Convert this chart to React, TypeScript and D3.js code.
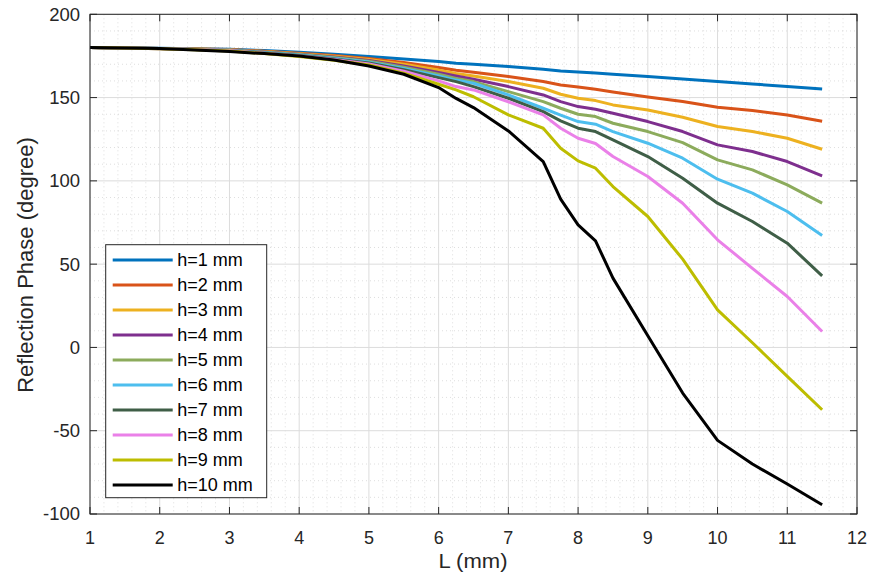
import React from "react";
import * as d3 from "d3";

const Lvals = [1, 1.5, 2, 2.5, 3, 3.5, 4, 4.5, 5, 5.5, 6, 6.25, 6.5, 7, 7.5, 7.75, 8, 8.25, 8.5, 9, 9.5, 10, 10.5, 11, 11.5];

const h1 = [180, 179.8, 179.6, 179.3, 179, 178.2, 177.2, 176, 174.6, 173.2, 171.6, 170.6, 170, 168.6, 167, 166, 165.4, 164.8, 164, 162.6, 161.2, 159.6, 158.2, 156.6, 155.2];
const h2 = [180, 179.8, 179.5, 179.2, 178.8, 177.8, 176.6, 175.2, 173.4, 171, 168, 166.4, 165.2, 162.6, 159.6, 157.6, 156.4, 155, 153.4, 150.4, 147.6, 144.2, 142.2, 139.6, 135.8];
const h3 = [180, 179.8, 179.5, 179.1, 178.7, 177.6, 176.3, 174.8, 172.8, 170, 166.5, 164.5, 163, 159.6, 155.6, 152, 149.6, 148.2, 145.6, 142.6, 138.2, 132.6, 129.6, 125.6, 119];
const h4 = [180, 179.8, 179.4, 179, 178.6, 177.4, 176, 174.4, 172.3, 169, 165, 163, 161, 156.6, 151.6, 147.6, 144.6, 143, 140.6, 135.6, 129.6, 121.6, 117.6, 111.6, 103];
const h5 = [180, 179.8, 179.4, 179, 178.5, 177.2, 175.8, 174, 171.8, 168.2, 164, 161.5, 159.6, 153.6, 147.6, 143.6, 140, 138.6, 134.6, 129.6, 123, 112.6, 106.6, 97.6, 86.6];
const h6 = [180, 179.8, 179.4, 178.9, 178.4, 177, 175.5, 173.6, 171.3, 167.5, 163, 160.5, 158.6, 151.6, 143.6, 139.5, 135.6, 134, 129.6, 122.6, 113.6, 101, 92.6, 81.6, 67.2];
const h7 = [180, 179.8, 179.3, 178.8, 178.3, 176.8, 175.2, 173.2, 170.8, 166.8, 162, 159.6, 156.6, 149.6, 141.6, 136, 131.6, 129.6, 124.6, 114.6, 101.6, 86.6, 75.6, 62.6, 43];
const h8 = [180, 179.8, 179.3, 178.8, 178.2, 176.6, 175, 172.8, 170.2, 165.8, 160, 156.6, 154.6, 147.5, 139.6, 131.6, 125.6, 122.4, 114.6, 102.6, 86.6, 64.6, 47.5, 30.6, 9.6];
const h9 = [180, 179.8, 179.3, 178.7, 178, 176.4, 174.6, 172.4, 169.6, 164.6, 158, 154.6, 150.5, 139.6, 131.6, 119.6, 112, 107.6, 96.6, 78.6, 53, 22.6, 2.8, -17.4, -37.4];
const h10 = [180, 179.8, 179.5, 178.6, 177.6, 176.4, 175, 172.6, 169, 164, 156, 149.5, 144, 130, 111.6, 89, 73.6, 64, 41.6, 7, -27.4, -55.8, -70, -82, -94.4];

const seriesNames = ["h=1 mm", "h=2 mm", "h=3 mm", "h=4 mm", "h=5 mm", "h=6 mm", "h=7 mm", "h=8 mm", "h=9 mm", "h=10 mm"];
const seriesValues = [h1, h2, h3, h4, h5, h6, h7, h8, h9, h10];
const seriesColors = ["#0072BD", "#D95319", "#EDB120", "#7E2F8E", "#8CAB5C", "#4DBEEE", "#3F5E47", "#EA80E8", "#BDBD00", "#000000"];

const xTicks = [1, 2, 3, 4, 5, 6, 7, 8, 9, 10, 11, 12];
const yTicks = [-100, -50, 0, 50, 100, 150, 200];

const W = 872, H = 581;
const left = 90, right = 857, top = 14.3, bottom = 514;
const font = "'Liberation Sans', Arial, Helvetica, sans-serif";
const axisColor = "#262626";

export default function App() {
  const x = d3.scaleLinear().domain([1, 12]).range([left, right]);
  const y = d3.scaleLinear().domain([-100, 200]).range([bottom, top]);
  const line = d3.line<[number, number]>().x(d => x(d[0])).y(d => y(d[1]));

  const xMinor = d3.range(1, 12.0001, 0.2).filter(v => Math.abs(v - Math.round(v)) > 1e-6);
  const yMinor = d3.range(-100, 200.0001, 10).filter(v => v % 50 !== 0);

  const tick = 7;
  const legX = 105.7, legY = 244.7, legW = 161, legH = 253;

  return (
    <svg width={W} height={H} style={{ position: "absolute", left: 0, top: 0, background: "#fff" }}>
      <rect x={0} y={0} width={W} height={H} fill="#fff" />
      {xMinor.map((v, i) => (
        <line key={"xm" + i} x1={x(v)} x2={x(v)} y1={top} y2={bottom} stroke="#c8c8c8" strokeWidth={0.6} strokeDasharray="1,3" />
      ))}
      {yMinor.map((v, i) => (
        <line key={"ym" + i} x1={left} x2={right} y1={y(v)} y2={y(v)} stroke="#c8c8c8" strokeWidth={0.6} strokeDasharray="1,3" />
      ))}
      {xTicks.map((v, i) => (
        <line key={"xg" + i} x1={x(v)} x2={x(v)} y1={top} y2={bottom} stroke="#dcdcdc" strokeWidth={1} />
      ))}
      {yTicks.map((v, i) => (
        <line key={"yg" + i} x1={left} x2={right} y1={y(v)} y2={y(v)} stroke="#dcdcdc" strokeWidth={1} />
      ))}
      {seriesValues.map((vals, i) => (
        <path key={"s" + i} d={line(Lvals.map((l, j) => [l, vals[j]] as [number, number])) || ""} fill="none" stroke={seriesColors[i]} strokeWidth={3} strokeLinejoin="round" />
      ))}
      <rect x={left} y={top} width={right - left} height={bottom - top} fill="none" stroke={axisColor} strokeWidth={1} />
      {xTicks.map((v, i) => (
        <g key={"xt" + i}>
          <line x1={x(v)} x2={x(v)} y1={bottom} y2={bottom - tick} stroke={axisColor} />
          <line x1={x(v)} x2={x(v)} y1={top} y2={top + tick} stroke={axisColor} />
          <text x={x(v)} y={543.5} textAnchor="middle" fontFamily={font} fontSize={18} fill={axisColor}>{v}</text>
        </g>
      ))}
      {yTicks.map((v, i) => (
        <g key={"yt" + i}>
          <line x1={left} x2={left + tick} y1={y(v)} y2={y(v)} stroke={axisColor} />
          <line x1={right} x2={right - tick} y1={y(v)} y2={y(v)} stroke={axisColor} />
          <text x={80} y={y(v)} dy="0.35em" textAnchor="end" fontFamily={font} fontSize={18.5} fill={axisColor}>{v}</text>
        </g>
      ))}
      <text x={473} y={568} textAnchor="middle" fontFamily={font} fontSize={19.5} textLength={69} lengthAdjust="spacingAndGlyphs" fill={axisColor}>L (mm)</text>
      <text transform={`translate(33,265) rotate(-90)`} textAnchor="middle" fontFamily={font} fontSize={22} fill={axisColor}>Reflection Phase (degree)</text>
      <rect x={legX} y={legY} width={legW} height={legH} fill="#fff" stroke={axisColor} strokeWidth={1} />
      {seriesNames.map((n, i) => (
        <g key={"lg" + i}>
          <line x1={112.7} x2={172.7} y1={260 + i * 25} y2={260 + i * 25} stroke={seriesColors[i]} strokeWidth={3} />
          <text x={177.3} y={260 + i * 25} dy="0.35em" fontFamily={font} fontSize={18} fill="#000">{n}</text>
        </g>
      ))}
    </svg>
  );
}
